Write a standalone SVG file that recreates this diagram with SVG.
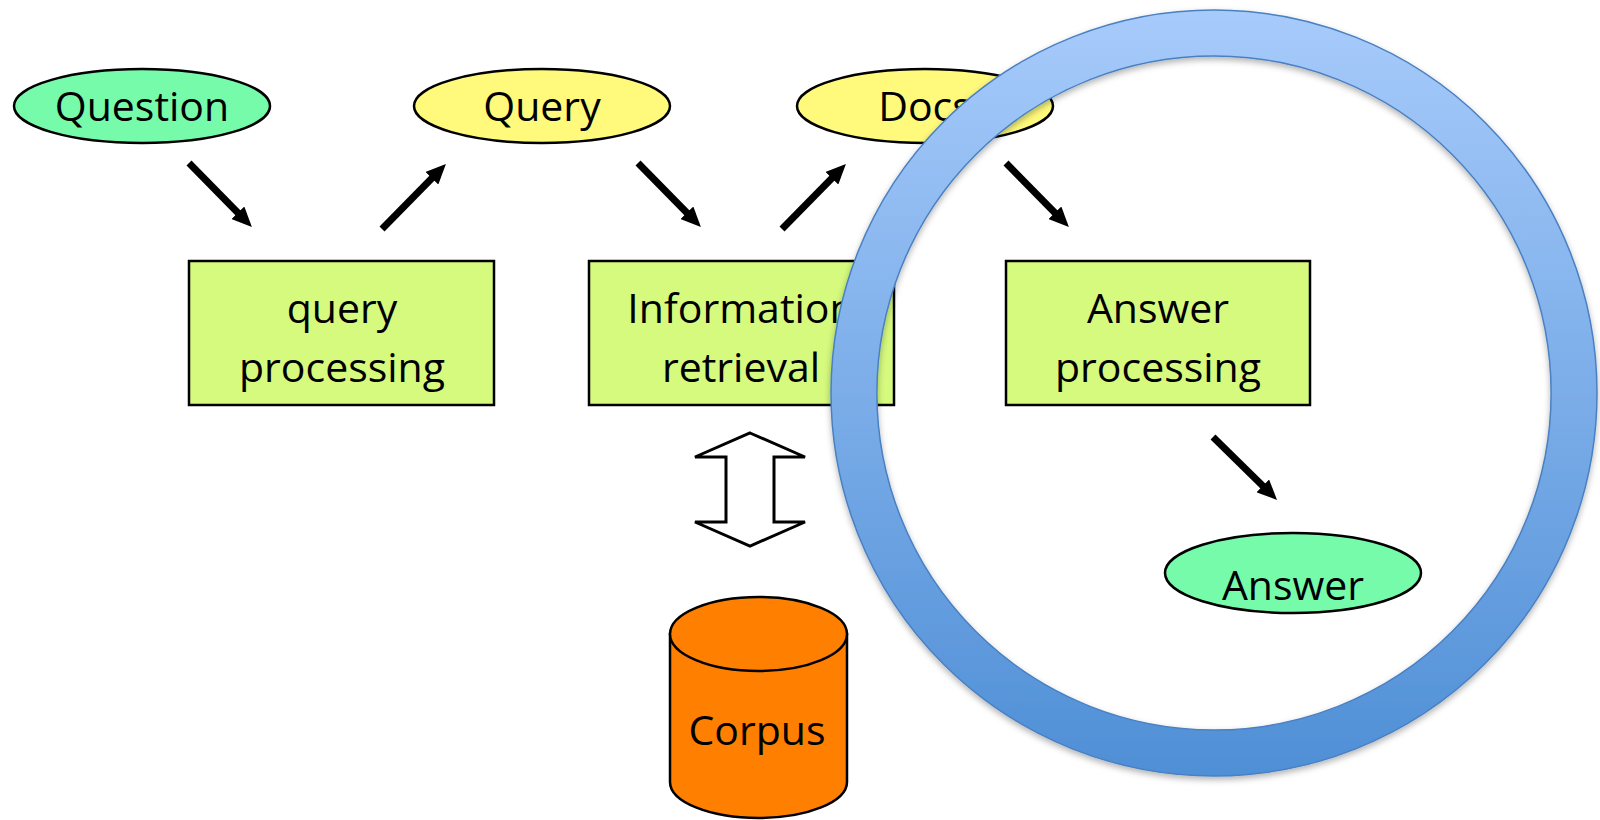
<svg xmlns="http://www.w3.org/2000/svg" width="1600" height="820" viewBox="0 0 1600 820">
  <defs>
    <style>
      .lbl { font-family: "Open Sans", "Liberation Sans", sans-serif; font-size: 41px; fill: #000; text-anchor: middle; }
      .out { stroke: #000; stroke-width: 2.5; }
      .green { fill: #76fbaa; }
      .yellow { fill: #fffa7c; }
      .box { fill: #d5fa7d; stroke: #000; stroke-width: 2.5; }
      .flow { stroke: #000; stroke-width: 7; fill: none; }
    </style>
    <marker id="head" viewBox="0 0 20 18" refX="8" refY="9" markerWidth="20" markerHeight="18" markerUnits="userSpaceOnUse" orient="auto">
      <path d="M0,0 L20,9 L0,18 z" fill="#000"/>
    </marker>
    <linearGradient id="ringFill" x1="0" y1="0" x2="0" y2="1">
      <stop offset="0" stop-color="#a7cbfb"/>
      <stop offset="1" stop-color="#4f8fd6"/>
    </linearGradient>
    <filter id="soft" x="-10%" y="-10%" width="120%" height="120%">
      <feDropShadow dx="0" dy="3" stdDeviation="3" flood-color="#000" flood-opacity="0.3"/>
    </filter>
  </defs>

  <rect width="1600" height="820" fill="#fff"/>

  <!-- pipeline arrows -->
  <g id="connectors">
    <line class="flow" x1="189" y1="163" x2="243.5" y2="218.5" marker-end="url(#head)"/>
    <line class="flow" x1="382" y1="229" x2="437.5" y2="172.5" marker-end="url(#head)"/>
    <line class="flow" x1="638" y1="163" x2="692.5" y2="218.5" marker-end="url(#head)"/>
    <line class="flow" x1="782" y1="229" x2="837.5" y2="172.5" marker-end="url(#head)"/>
    <line class="flow" x1="1006" y1="163" x2="1060.5" y2="218.5" marker-end="url(#head)"/>
    <line class="flow" x1="1213" y1="437" x2="1268.5" y2="491.5" marker-end="url(#head)"/>
    <!-- two-way link between retrieval and corpus -->
    <path d="M750,433 L805,457 L774,457 L774,522 L805,522 L750,546 L695,522 L726,522 L726,457 L695,457 Z" fill="#fff" stroke="#000" stroke-width="3" stroke-linejoin="miter"/>
  </g>

  <g id="question">
    <ellipse class="green out" cx="142" cy="106" rx="128" ry="37"/>
    <text class="lbl" x="142" y="121">Question</text>
  </g>

  <g id="query">
    <ellipse class="yellow out" cx="542" cy="106" rx="128" ry="37"/>
    <text class="lbl" x="542" y="121">Query</text>
  </g>

  <g id="docs">
    <ellipse class="yellow out" cx="925" cy="106" rx="128" ry="37"/>
    <text class="lbl" x="925" y="121">Docs</text>
  </g>

  <g id="query-processing">
    <rect class="box" x="189" y="261" width="305" height="144"/>
    <text class="lbl" x="342" y="323">query</text>
    <text class="lbl" x="342" y="382">processing</text>
  </g>

  <g id="information-retrieval">
    <rect class="box" x="589" y="261" width="305" height="144"/>
    <text class="lbl" x="741" y="323">Information</text>
    <text class="lbl" x="741" y="382">retrieval</text>
  </g>

  <g id="answer-processing">
    <rect class="box" x="1006" y="261" width="304" height="144"/>
    <text class="lbl" x="1158" y="323">Answer</text>
    <text class="lbl" x="1158" y="382">processing</text>
  </g>

  <g id="answer">
    <ellipse class="green out" cx="1293" cy="573" rx="128" ry="40"/>
    <text class="lbl" x="1293" y="600">Answer</text>
  </g>

  <g id="corpus">
    <path d="M670,634 L670,782 A88.5,36 0 0 0 847,782 L847,634 Z" fill="#ff7f00" stroke="#000" stroke-width="2.5"/>
    <ellipse cx="758.5" cy="634" rx="88.5" ry="37" fill="#ff7f00" stroke="#000" stroke-width="2.5"/>
    <text class="lbl" x="757" y="745">Corpus</text>
  </g>

  <!-- highlight ring around the answer stage -->
  <g id="focus-ring" filter="url(#soft)">
    <path d="M1214,10 A383,383 0 1 0 1214,776 A383,383 0 1 0 1214,10 Z M1214,56 A337,337 0 1 1 1214,730 A337,337 0 1 1 1214,56 Z" fill="url(#ringFill)" fill-rule="evenodd" stroke="#4a80c2" stroke-width="1.5"/>
  </g>
</svg>
